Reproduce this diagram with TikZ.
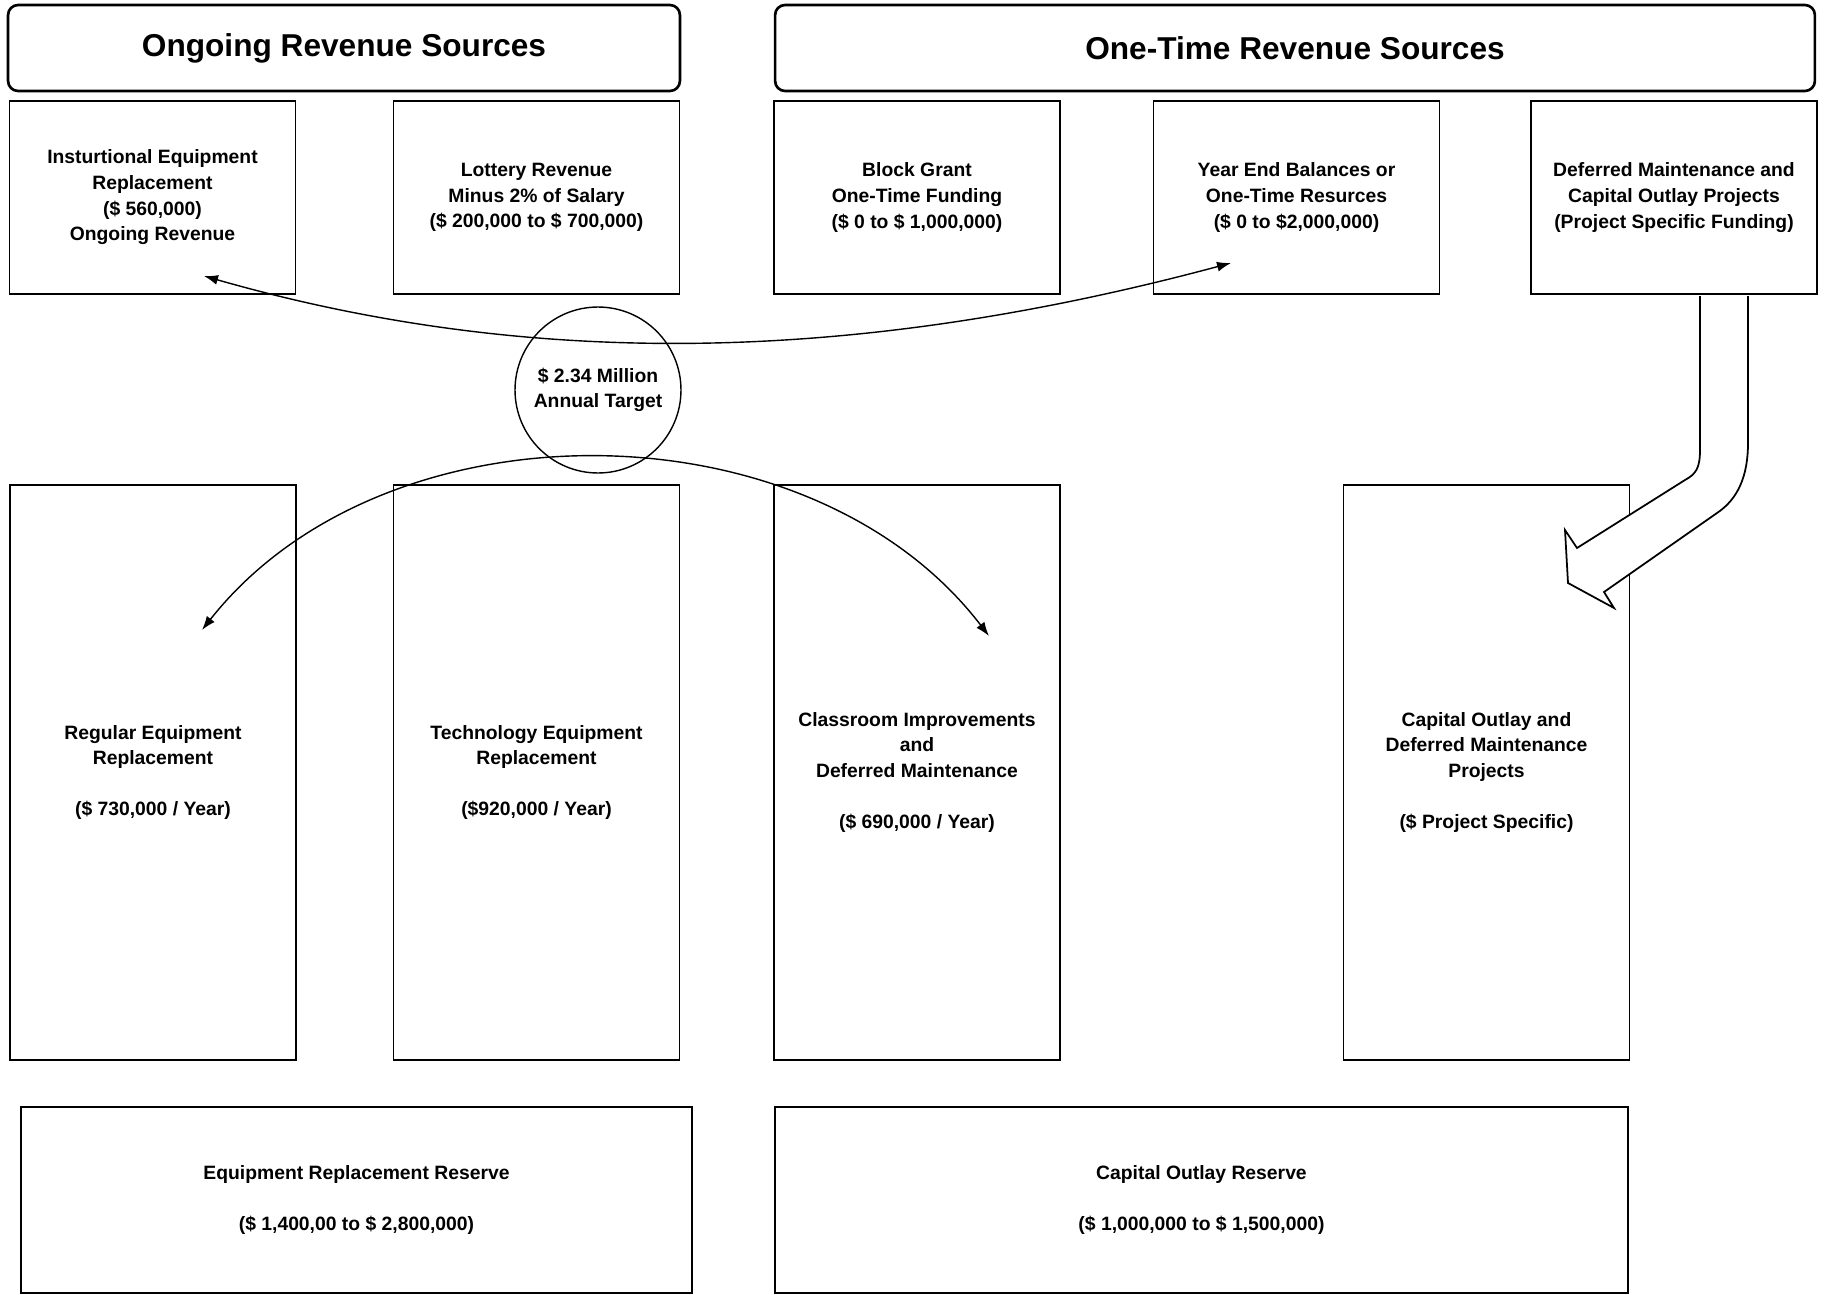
\documentclass[tikz,border=0pt]{standalone}
\usepackage{fontspec}
\setmainfont{Liberation Sans}
\usetikzlibrary{arrows.meta}

\begin{document}
\begin{tikzpicture}[x=0.02cm, y=-0.02cm,
    font=\bfseries\fontsize{11}{14.6}\selectfont,
    kasten/.style={draw, line width=1pt, align=center, inner sep=0pt, minimum width=5.72cm},
    kopf/.style={draw, line width=1.5pt, rounded corners=0.2cm, minimum height=1.72cm,
        font=\bfseries\fontsize{18}{22}\selectfont},
    pfeil/.style={<->, line width=0.8pt},
    >={Latex[length=0.28cm, width=0.2cm]} % Pfeilspitzen
    ]
        \useasboundingbox (0,0) rectangle (1827,1295);

        % Kopfzeilen
        \node[kopf, minimum width=13.44cm] (ongoing) at (344,48) {Ongoing Revenue Sources};
        \node[kopf, minimum width=20.8cm] (onetime) at (1295,48) {One-Time Revenue Sources};

        % Quellen
        \node[kasten, minimum height=3.86cm] (inst) at (152.5,197.5)
            {Insturtional Equipment\\Replacement\\(\$ 560,000)\\Ongoing Revenue};
        \node[kasten, minimum height=3.86cm] (lotto) at (536.5,197.5)
            {Lottery Revenue\\Minus 2\% of Salary\\(\$ 200,000 to \$ 700,000)};
        \node[kasten, minimum height=3.86cm] (block) at (917,197.5)
            {Block Grant\\One-Time Funding\\(\$ 0 to \$ 1,000,000)};
        \node[kasten, minimum height=3.86cm] (year) at (1296.5,197.5)
            {Year End Balances or\\One-Time Resurces\\(\$ 0 to \$2,000,000)};
        \node[kasten, minimum height=3.86cm] (defer) at (1674,197.5)
            {Deferred Maintenance and\\Capital Outlay Projects\\(Project Specific Funding)};

        % Ziel
        \node[draw, circle, line width=0.8pt, minimum size=3.32cm, align=center] (ziel) at (598,390)
            {\$ 2.34 Million\\Annual Target};

        % Verwendung
        \node[kasten, minimum height=11.5cm] (regular) at (153,772.5)
            {Regular Equipment\\Replacement\\[14.6pt](\$ 730,000 / Year)};
        \node[kasten, minimum height=11.5cm] (techno) at (536.5,772.5)
            {Technology Equipment\\Replacement\\[14.6pt](\$920,000 / Year)};
        \node[kasten, minimum height=11.5cm] (class) at (917,772.5)
            {Classroom Improvements\\and\\Deferred Maintenance\\[14.6pt](\$ 690,000 / Year)};
        \node[kasten, minimum height=11.5cm] (capital) at (1486.5,772.5)
            {Capital Outlay and\\Deferred Maintenance\\Projects\\[14.6pt](\$ Project Specific)};

        % Reserven
        \node[kasten, minimum width=13.42cm, minimum height=3.72cm] (eqres) at (356.5,1200)
            {Equipment Replacement Reserve\\[14.6pt](\$ 1,400,00 to \$ 2,800,000)};
        \node[kasten, minimum width=17.06cm, minimum height=3.72cm] (capres) at (1201.5,1200)
            {Capital Outlay Reserve\\[14.6pt](\$ 1,000,000 to \$ 1,500,000)};

        % Pfeile
        \coordinate (tipInst) at (204,276);
        \coordinate (tipYear) at (1231,263);
        \coordinate (tipReg) at (202,630);
        \coordinate (tipClass) at (989,636);

        \draw[pfeil] (tipInst) .. controls (540,372) and (865,361) .. (tipYear);
        \draw[pfeil] (tipReg) .. controls (385,398) and (810,402) .. (tipClass);

        % Blockpfeil
        \draw[line width=1pt, fill=white] (1700,296) -- (1700,450)
            .. controls (1700,468) and (1696,474) .. (1685,480)
            -- (1577,548) -- (1565,530) -- (1568,583) -- (1614,608) -- (1604,592)
            -- (1717,513) .. controls (1738,499) and (1748,476) .. (1748,443)
            -- (1748,296);
    \end{tikzpicture}
\end{document}
